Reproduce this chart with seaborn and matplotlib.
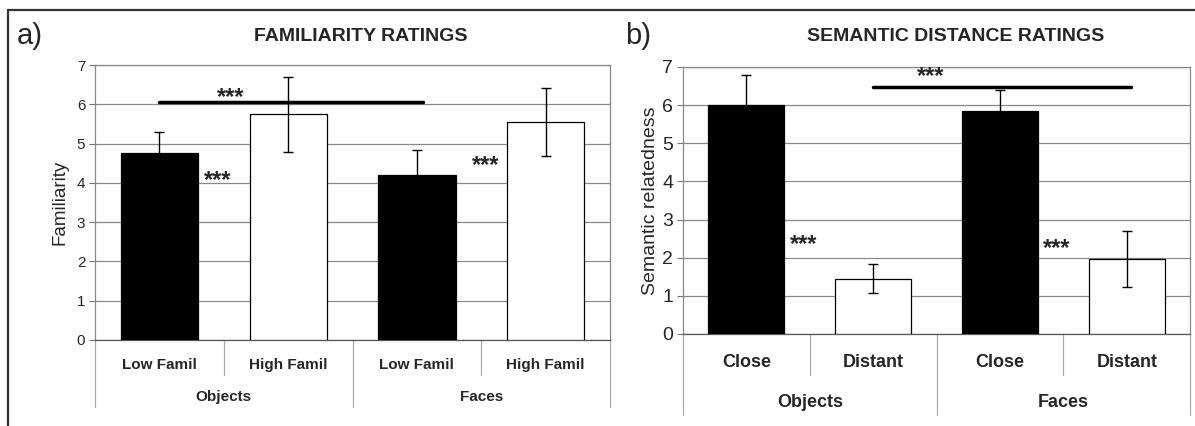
import numpy as np
import pandas as pd
import matplotlib
matplotlib.use("Agg")
import matplotlib.pyplot as plt
import seaborn as sns
from matplotlib.lines import Line2D

# data
groups = ["Objects", "Objects", "Faces", "Faces"]

fam_conds = ["Low Famil", "High Famil", "Low Famil", "High Famil"]
fam_means = [4.75, 5.75, 4.2, 5.55]
fam_err = [0.55, 0.95, 0.65, 0.87]

sem_conds = ["Close", "Distant", "Close", "Distant"]
sem_means = [6.0, 1.45, 5.85, 1.97]
sem_err = [0.8, 0.38, 0.55, 0.73]

bar_colors = ["black", "white", "black", "white"]

sns.set_style("white")
plt.rcParams['font.family'] = ['Liberation Sans', 'DejaVu Sans']

fig = plt.figure(figsize=(11.95, 4.26), dpi=100)
ax_a = fig.add_axes([0.0795, 0.202, 0.431, 0.645])
ax_b = fig.add_axes([0.5715, 0.216, 0.4245, 0.627])


def draw_panel(ax, conds, means, errs, tick_fs, lab_fs, cat_y, grp_y, cat_line, grp_line):
    df = pd.DataFrame({"key": [f"{g}-{c}-{i}" for i, (g, c) in enumerate(zip(groups, conds))],
                       "value": means})
    sns.barplot(data=df, x="key", y="value", hue="key", palette=bar_colors,
                edgecolor="black", linewidth=0.9, width=0.6, errorbar=None,
                legend=False, ax=ax, zorder=3)
    x = np.arange(len(means))
    ax.errorbar(x, means, yerr=errs, fmt="none", ecolor="black", elinewidth=1.0,
                capsize=3.5, capthick=1.0, zorder=4)
    ax.set_ylim(0, 7)
    ax.set_xlim(-0.5, 3.5)
    ax.set_yticks(range(8))
    ax.tick_params(axis="y", labelsize=tick_fs, length=4, color="#777777", left=True, pad=3)
    ax.tick_params(axis="x", bottom=False, labelbottom=False)
    ax.set_xlabel("")
    ax.yaxis.grid(True, color="#888888", linewidth=0.9, zorder=0)
    ax.set_axisbelow(True)
    for s in ax.spines.values():
        s.set_color("#888888")
        s.set_linewidth(0.9)
    ax.spines["bottom"].set_color("#555555")
    trans = ax.get_xaxis_transform()
    for xv in [0.5, 2.5]:
        ax.add_line(Line2D([xv, xv], [0, cat_line], transform=trans, color="#aaaaaa",
                           lw=0.9, clip_on=False))
    for xv in [-0.5, 1.5, 3.5]:
        ax.add_line(Line2D([xv, xv], [0, grp_line], transform=trans, color="#aaaaaa",
                           lw=0.9, clip_on=False))
    for xi, c in zip(x, conds):
        ax.text(xi, cat_y, c, transform=trans, ha="center", va="center",
                fontsize=lab_fs, fontweight="bold")
    for xi, g in zip([0.5, 2.5], ["Objects", "Faces"]):
        ax.text(xi, grp_y, g, transform=trans, ha="center", va="center",
                fontsize=lab_fs, fontweight="bold")


draw_panel(ax_a, fam_conds, fam_means, fam_err, 11, 11, -0.091, -0.207, -0.127, -0.244)
draw_panel(ax_b, sem_conds, sem_means, sem_err, 14, 13, -0.105, -0.258, -0.154, -0.303)

ax_a.set_ylabel("Familiarity", fontsize=13.5, labelpad=6)
ax_b.set_ylabel("Semantic relatedness", fontsize=14, labelpad=2)

# significance markers
star_fs = 17
ax_a.plot([0.0, 2.05], [6.05, 6.05], color="black", lw=2.5, zorder=5)
ax_a.text(0.55, 6.18, "***", ha="center", va="center", fontsize=star_fs, fontweight="bold")
ax_a.text(0.45, 4.05, "***", ha="center", va="center", fontsize=star_fs, fontweight="bold")
ax_a.text(2.53, 4.45, "***", ha="center", va="center", fontsize=star_fs, fontweight="bold")

ax_b.plot([1.0, 3.03], [6.47, 6.47], color="black", lw=2.5, zorder=5)
ax_b.text(1.45, 6.74, "***", ha="center", va="center", fontsize=star_fs, fontweight="bold")
ax_b.text(0.45, 2.34, "***", ha="center", va="center", fontsize=star_fs, fontweight="bold")
ax_b.text(2.45, 2.24, "***", ha="center", va="center", fontsize=star_fs, fontweight="bold")

# titles and panel letters
fig.text(0.302, 0.915, "FAMILIARITY RATINGS", ha="center", va="center",
         fontsize=14, fontweight="bold")
fig.text(0.80, 0.915, "SEMANTIC DISTANCE RATINGS", ha="center", va="center",
         fontsize=14, fontweight="bold")
fig.text(0.014, 0.915, "a)", ha="left", va="center", fontsize=21)
fig.text(0.523, 0.915, "b)", ha="left", va="center", fontsize=21)

# outer frame (top and left)
fig.add_artist(Line2D([0.007, 1.0], [0.977, 0.977], transform=fig.transFigure,
                      color="#333333", lw=1.6))
fig.add_artist(Line2D([0.007, 0.007], [0.0, 0.977], transform=fig.transFigure,
                      color="#333333", lw=1.6))

fig.savefig("out.png", dpi=100)
